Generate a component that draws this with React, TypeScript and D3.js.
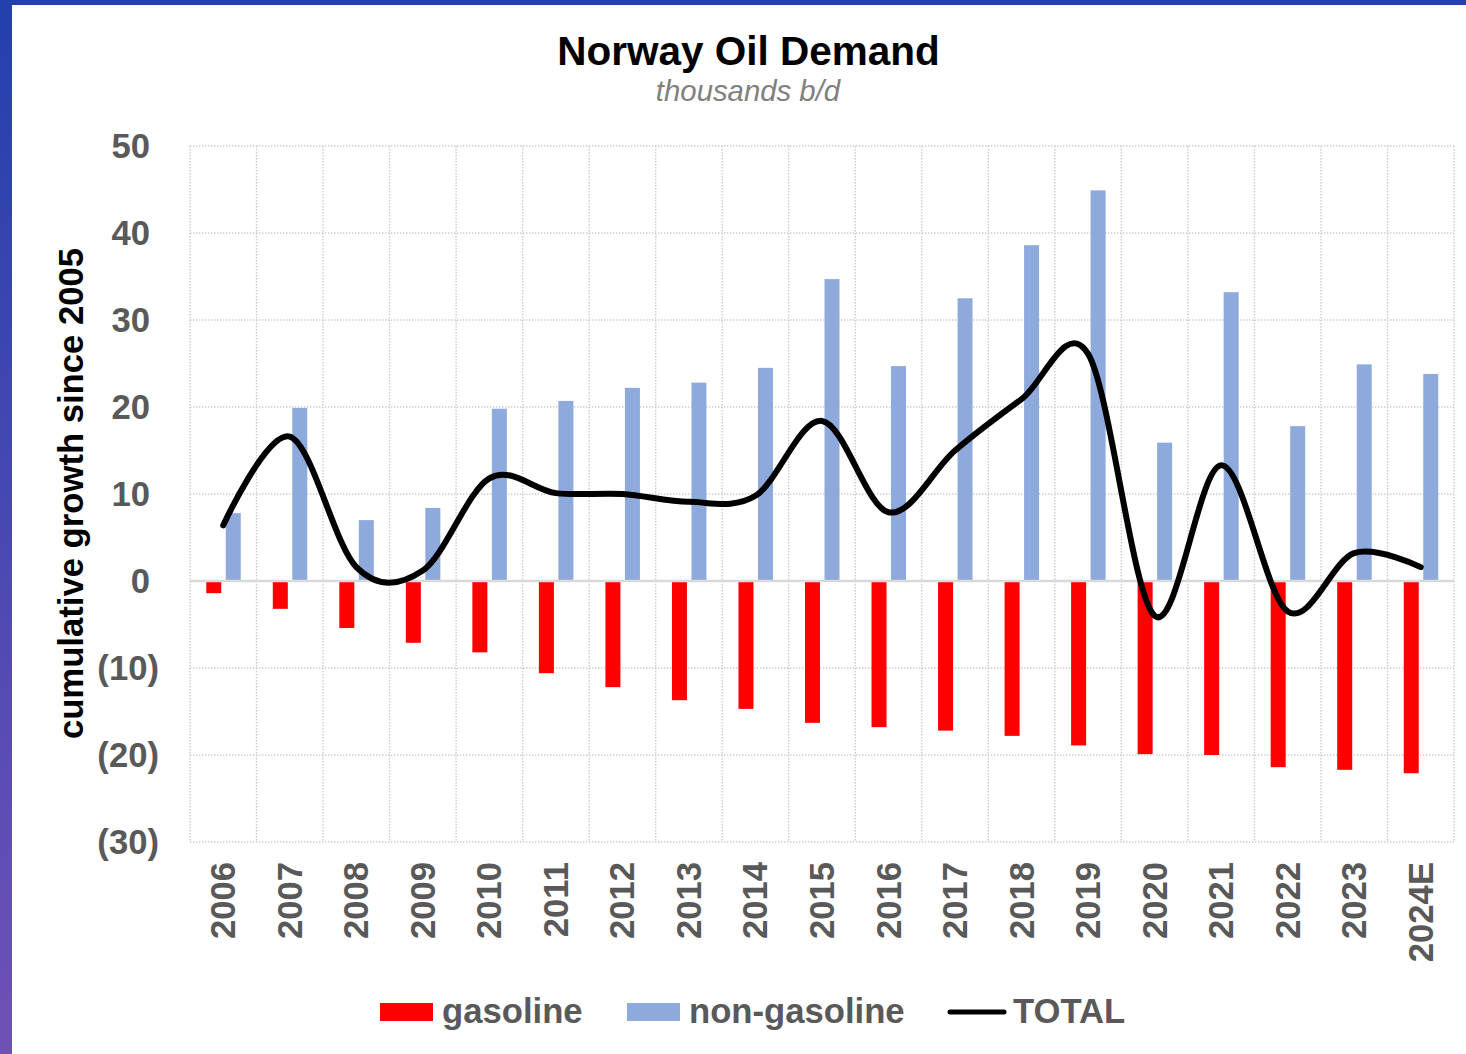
import React from "react";
import * as d3 from "d3";

const categories = ["2006","2007","2008","2009","2010","2011","2012","2013","2014","2015","2016","2017","2018","2019","2020","2021","2022","2023","2024E"];
const gasoline = [-1.4,-3.2,-5.4,-7.1,-8.2,-10.6,-12.2,-13.7,-14.7,-16.3,-16.8,-17.2,-17.8,-18.9,-19.9,-20.0,-21.4,-21.7,-22.1];
const nonGasoline = [7.8,19.9,7.0,8.4,19.8,20.7,22.2,22.8,24.5,34.7,24.7,32.5,38.6,44.9,15.9,33.2,17.8,24.9,23.8];
const total = [6.4,16.6,1.6,1.2,11.8,10.1,10.0,9.1,9.8,18.4,7.9,15.0,20.9,26.1,-4.0,13.3,-3.5,3.2,1.6];
const yTicks = [-30,-20,-10,0,10,20,30,40,50];

const W = 1466, H = 1054;
const FONT = "'Liberation Sans', Arial, sans-serif";
const LEFT = 190, RIGHT = 1454, TOP = 146, BOTTOM = 842;

export default function App() {
  const x = d3.scaleBand<string>().domain(categories).range([LEFT, RIGHT]).padding(0);
  const y = d3.scaleLinear().domain([-30, 50]).range([BOTTOM, TOP]);
  const bw = x.bandwidth();
  const cx = (c: string) => (x(c) as number) + bw / 2;
  const line = d3.line<number>()
    .x((_, i) => cx(categories[i]))
    .y(d => y(d))
    .curve(d3.curveCardinal.tension(0));
  const fmt = (v: number) => (v < 0 ? `(${Math.abs(v)})` : `${v}`);
  const barW = 15;
  const grid = { stroke: "#cccccc", strokeWidth: 1.4, strokeDasharray: "1.4,1.6" };

  return (
    <div style={{ position: "absolute", left: 0, top: 0 }}>
      <svg width={W} height={H} style={{ display: "block", fontFamily: FONT }}>
        <defs>
          <linearGradient id="lb" x1="0" y1="0" x2="0" y2="1">
            <stop offset="0" stopColor="#2340ad" />
            <stop offset="1" stopColor="#6f51b6" />
          </linearGradient>
        </defs>
        <rect x={0} y={0} width={W} height={H} fill="#fff" />
        <rect x={0} y={0} width={W} height={5} fill="#2340ad" />
        <rect x={0} y={0} width={12} height={H} fill="url(#lb)" />

        {/* gridlines */}
        {yTicks.filter(t => t !== 0).map(t => (
          <line key={"h" + t} x1={LEFT} x2={RIGHT} y1={y(t)} y2={y(t)} {...grid} />
        ))}
        {categories.map(c => (
          <line key={"v" + c} x1={x(c)} x2={x(c)} y1={TOP} y2={BOTTOM} {...grid} />
        ))}
        <line x1={RIGHT} x2={RIGHT} y1={TOP} y2={BOTTOM} {...grid} />

        {/* bars */}
        {categories.map((c, i) => (
          <rect key={"g" + c} x={cx(c) - 17} width={barW} y={y(0)} height={y(gasoline[i]) - y(0)} fill="#ff0000" />
        ))}
        {categories.map((c, i) => (
          <rect key={"n" + c} x={cx(c) + 2.5} width={barW} y={y(nonGasoline[i])} height={y(0) - y(nonGasoline[i])} fill="#8eaadc" />
        ))}
        <line x1={LEFT} x2={RIGHT} y1={y(0)} y2={y(0)} stroke="#d9d9d9" strokeWidth={2.5} />

        {/* total line */}
        <path d={line(total) || ""} fill="none" stroke="#000" strokeWidth={6} strokeLinecap="round" strokeLinejoin="round" />

        {/* y ticks */}
        {yTicks.map(t => (
          <text key={"yt" + t} x={t < 0 ? 159 : 150} y={y(t) + 12} textAnchor="end" fontSize={34.67} fontWeight="bold" fill="#595959">{fmt(t)}</text>
        ))}
        {/* x labels */}
        {categories.map(c => (
          <text key={"xl" + c} transform={`translate(${cx(c) + 12},862) rotate(-90)`} textAnchor="end" fontSize={34.67} fontWeight="bold" fill="#595959">{c}</text>
        ))}

        {/* y title */}
        <text transform={`translate(83,${(245 + 742) / 2}) rotate(-90)`} textAnchor="middle" fontSize={34.67} fontWeight="bold" fill="#000">cumulative growth since 2005</text>

        {/* titles */}
        <text x={748.5} y={65} textAnchor="middle" fontSize={40.5} fontWeight="bold" fill="#000">Norway Oil Demand</text>
        <text x={748} y={101} textAnchor="middle" fontSize={29.33} fontStyle="italic" fill="#808080">thousands b/d</text>

        {/* legend */}
        <rect x={380} y={1003} width={53} height={18} fill="#ff0000" />
        <text x={442} y={1023} fontSize={34.67} fontWeight="bold" fill="#595959">gasoline</text>
        <rect x={627} y={1003} width={53} height={18} fill="#8eaadc" />
        <text x={689} y={1023} fontSize={34.67} fontWeight="bold" fill="#595959">non-gasoline</text>
        <line x1={950} x2={1004} y1={1012} y2={1012} stroke="#000" strokeWidth={5} strokeLinecap="round" />
        <text x={1013} y={1023} fontSize={34.67} fontWeight="bold" fill="#595959">TOTAL</text>
      </svg>
    </div>
  );
}
